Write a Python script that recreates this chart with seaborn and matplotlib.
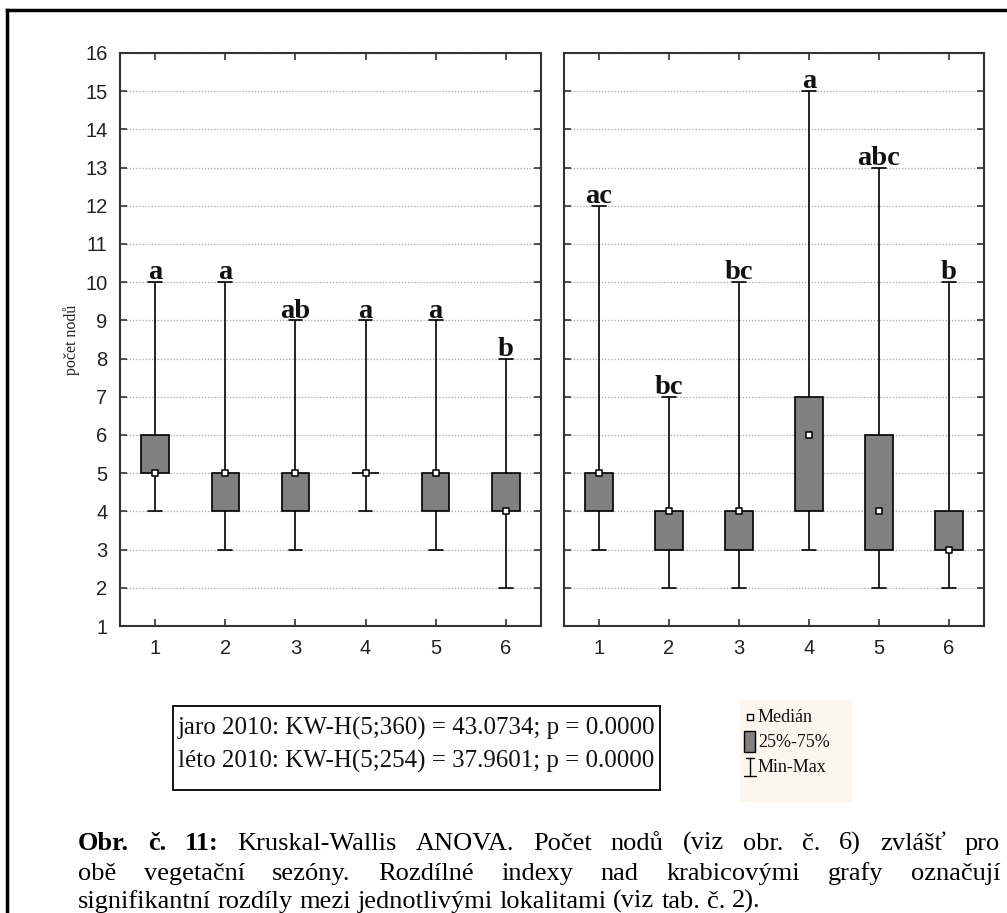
import numpy as np
import pandas as pd
import matplotlib
matplotlib.use("Agg")
import matplotlib.pyplot as plt
import seaborn as sns
from matplotlib.patches import Rectangle

# ---- data: five-number summaries per locality -------------------------
sites = ["1", "2", "3", "4", "5", "6"]

# jaro 2010
spring_min = [4, 3, 3, 4, 3, 2]
spring_q1 = [5, 4, 4, 5, 4, 4]
spring_med = [5, 5, 5, 5, 5, 4]
spring_q3 = [6, 5, 5, 5, 5, 5]
spring_max = [10, 10, 9, 9, 9, 8]
spring_letters = ["a", "a", "ab", "a", "a", "b"]

# léto 2010
summer_min = [3, 2, 2, 3, 2, 2]
summer_q1 = [4, 3, 3, 4, 3, 3]
summer_med = [5, 4, 4, 6, 4, 3]
summer_q3 = [5, 4, 4, 7, 6, 4]
summer_max = [12, 7, 10, 15, 13, 10]
summer_letters = ["ac", "bc", "bc", "a", "abc", "b"]

y_ticks = list(range(1, 17))
y_label = "počet nodů"
stats_lines = [
    "jaro 2010: KW-H(5;360) = 43.0734; p = 0.0000",
    "léto 2010: KW-H(5;254) = 37.9601; p = 0.0000",
]
legend_labels = ["Medián", "25%-75%", "Min-Max"]
caption_label = "Obr. č. 11:"
caption_lines = [
    "Kruskal-Wallis ANOVA. Počet nodů (viz obr. č. 6) zvlášť pro",
    "obě vegetační sezóny. Rozdílné indexy nad krabicovými grafy označují",
    "signifikantní rozdíly mezi jednotlivými lokalitami (viz tab. č. 2).",
]

# ---- style ---------------------------------------------------------------
sns.set_theme(style="white")
plt.rcParams["font.family"] = ["Liberation Serif", "DejaVu Serif"]

W, H = 1007, 913
fig = plt.figure(figsize=(W / 100, H / 100), dpi=100)
fig.patch.set_facecolor("white")

BOX_GRAY = "#808080"
SPINE = "#333333"


def summary_frame(mins, q1s, meds, q3s, maxs):
    # five ordered values per locality reproduce the quartiles exactly
    rows = []
    for s, a, b, c, d, e in zip(sites, mins, q1s, meds, q3s, maxs):
        for v in (a, b, c, d, e):
            rows.append({"lokalita": s, "hodnota": v})
    return pd.DataFrame(rows)


def panel(rect, mins, q1s, meds, q3s, maxs, letters, show_labels):
    ax = fig.add_axes(rect)
    df = summary_frame(mins, q1s, meds, q3s, maxs)
    sns.boxplot(data=df, x="lokalita", y="hodnota", order=sites,
                whis=(0, 100), width=0.39, color=BOX_GRAY, saturation=1,
                linecolor="black", linewidth=1.2, showfliers=False,
                medianprops={"visible": False}, ax=ax)
    med_df = pd.DataFrame({"lokalita": sites, "median": meds})
    sns.stripplot(data=med_df, x="lokalita", y="median", order=sites,
                  jitter=False, marker="s", size=4.5, color="white",
                  edgecolor="black", linewidth=1.1, zorder=6, ax=ax)
    for i, (mx, lab) in enumerate(zip(maxs, letters)):
        ax.annotate(lab, (i, mx), xytext=(0, 2), textcoords="offset points",
                    ha="center", va="baseline", fontsize=20.5,
                    fontweight="bold", color="#111111")
    ax.set_ylim(y_ticks[0], y_ticks[-1])
    ax.set_xlim(-0.5, len(sites) - 0.5)
    ax.set_yticks(y_ticks)
    ax.set_xlabel("")
    ax.set_ylabel("")
    ax.yaxis.grid(True, linestyle=(0, (1, 1.5)), color="#a5a5a5", lw=0.9)
    ax.xaxis.grid(False)
    ax.set_axisbelow(True)
    for sp in ax.spines.values():
        sp.set_visible(True)
        sp.set_color(SPINE)
        sp.set_linewidth(1.5)
    ax.tick_params(direction="in", length=5, width=1.2, color=SPINE,
                   top=True, right=True, left=True, bottom=True,
                   labelleft=show_labels, labelbottom=True, pad=9,
                   labelsize=14.5, labelcolor="#222222")
    for t in ax.get_xticklabels() + ax.get_yticklabels():
        t.set_family("Liberation Sans")
    return ax


ax1 = panel([120 / W, 1 - 626 / H, 421 / W, 573 / H],
            spring_min, spring_q1, spring_med, spring_q3, spring_max,
            spring_letters, True)
ax2 = panel([564 / W, 1 - 626 / H, 420 / W, 573 / H],
            summer_min, summer_q1, summer_med, summer_q3, summer_max,
            summer_letters, False)

fig.text(72 / W, 1 - 340 / H, y_label, rotation=90, ha="center",
         va="center", fontsize=11.5, color="#222222")

# ---- overlay in pixel coordinates for frame, notes and caption ----------
ov = fig.add_axes([0, 0, 1, 1], zorder=10)
ov.set_xlim(0, W)
ov.set_ylim(H, 0)
ov.axis("off")
ov.patch.set_visible(False)

ov.plot([7, 7], [10, H], color="black", lw=2.5, solid_capstyle="projecting")
ov.plot([7, W], [10, 10], color="black", lw=2.5, solid_capstyle="projecting")

# test statistics box
ov.add_patch(Rectangle((173, 706), 487, 84, fill=False, ec="black", lw=1.3))
for k, line in enumerate(stats_lines):
    ov.text(178, 728 + 33 * k, line, ha="left", va="center",
            fontsize=18, color="#111111")

# legend
ov.add_patch(Rectangle((740, 700), 112, 102, fc="#fcf6ee", ec="none"))
ov.plot([750], [717], marker="s", ms=4.5, mfc="white", mec="black", mew=1)
ov.add_patch(Rectangle((744, 731), 11, 21, fc=BOX_GRAY, ec="black", lw=1))
ov.plot([750, 750], [758, 776], color="black", lw=1)
ov.plot([746, 754], [758, 758], color="black", lw=1)
ov.plot([744, 756], [776, 776], color="black", lw=1)
for k, lab in enumerate(legend_labels):
    ov.text(758, 717 + 25.5 * k, lab, ha="left", va="center",
            fontsize=13, color="#111111")

# justified caption
renderer = fig.canvas.get_renderer()
CAP_SIZE = 19
x_left, x_right = 78, 1000
baselines = [850, 880, 908]


def place_line(runs, y, justify):
    arts, widths = [], []
    for word, weight in runs:
        t = ov.text(0, y, word, ha="left", va="baseline", fontsize=CAP_SIZE,
                    fontweight=weight, color="black")
        arts.append(t)
        widths.append(t.get_window_extent(renderer).width)
    if justify and len(arts) > 1:
        gap = (x_right - x_left - sum(widths)) / (len(arts) - 1)
    else:
        gap = CAP_SIZE * 100 / 72 * 0.25
    x = x_left
    for t, w in zip(arts, widths):
        t.set_x(x)
        x += w + gap


for k, line in enumerate(caption_lines):
    runs = [(w, "normal") for w in line.split()]
    if k == 0:
        runs = [(w, "bold") for w in caption_label.split()] + runs
    place_line(runs, baselines[k], justify=k < len(caption_lines) - 1)

fig.savefig("out.png", dpi=100)
